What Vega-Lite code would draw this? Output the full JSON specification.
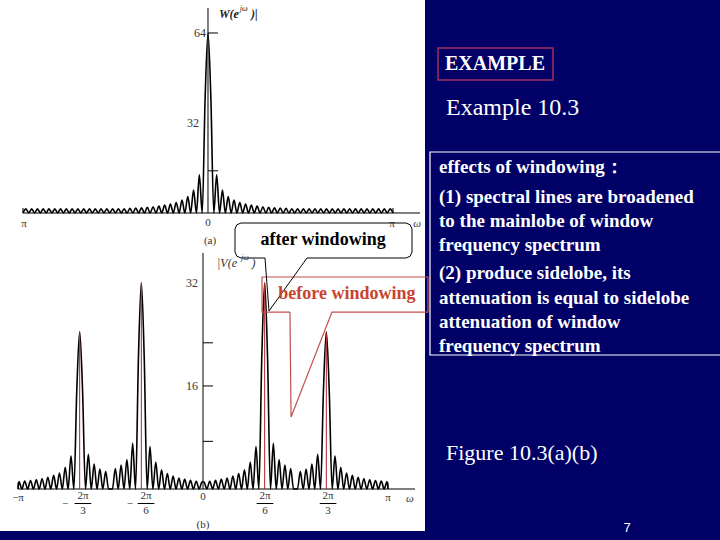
{
  "$schema": "https://vega.github.io/schema/vega-lite/v6.json",
  "background": "#000066",
  "padding": 0,
  "spacing": 0,
  "bounds": "flush",
  "config": {"view": {"stroke": null}},
  "hconcat": [
    {
      "width": 425,
      "height": 531,
      "view": {"fill": "white", "stroke": null},
      "resolve": {"scale": {"x": "independent", "y": "independent"}},
      "layer": [
        {
          "encoding": {
            "x": {"field": "x", "type": "quantitative", "scale": {"domain": [-1.1243, 1.173], "nice": false, "zero": false}, "axis": null},
            "y": {"field": "y", "type": "quantitative", "scale": {"domain": [-113.07, 75.73], "nice": false, "zero": false}, "axis": null}
          },
          "layer": [
            {
              "data": {"values": [
                {"x": -1, "x2": 1.146, "y": 0, "y2": 0},
                {"x": 0, "x2": 0, "y": 0, "y2": 72.9},
                {"x": 0, "x2": 0.054, "y": 64, "y2": 64},
                {"x": 0, "x2": 0.054, "y": 15, "y2": 15},
                {"x": -1, "x2": -1, "y": 0, "y2": 1.8},
                {"x": 1, "x2": 1, "y": 0, "y2": 1.8}
              ]},
              "mark": {"type": "rule", "color": "black", "strokeWidth": 1},
              "encoding": {"x2": {"field": "x2"}, "y2": {"field": "y2"}}
            },
            {
              "data": {"values": [
                {"x": -1, "y": 0}, {"x": -0.984375, "y": 1.45}, {"x": -0.96875, "y": 0}, {"x": -0.953125, "y": 1.45},
                {"x": -0.9375, "y": 0}, {"x": -0.921875, "y": 1.45}, {"x": -0.90625, "y": 0}, {"x": -0.890625, "y": 1.45},
                {"x": -0.875, "y": 0}, {"x": -0.859375, "y": 1.45}, {"x": -0.84375, "y": 0}, {"x": -0.828125, "y": 1.45},
                {"x": -0.8125, "y": 0}, {"x": -0.796875, "y": 1.45}, {"x": -0.78125, "y": 0}, {"x": -0.765625, "y": 1.45},
                {"x": -0.75, "y": 0}, {"x": -0.734375, "y": 1.45}, {"x": -0.71875, "y": 0}, {"x": -0.703125, "y": 1.45},
                {"x": -0.6875, "y": 0}, {"x": -0.671875, "y": 1.45}, {"x": -0.65625, "y": 0}, {"x": -0.640625, "y": 1.45},
                {"x": -0.625, "y": 0}, {"x": -0.609375, "y": 1.45}, {"x": -0.59375, "y": 0}, {"x": -0.578125, "y": 1.45},
                {"x": -0.5625, "y": 0}, {"x": -0.546875, "y": 1.45}, {"x": -0.53125, "y": 0}, {"x": -0.515625, "y": 1.45},
                {"x": -0.5, "y": 0}, {"x": -0.484375, "y": 1.45}, {"x": -0.46875, "y": 0}, {"x": -0.453125, "y": 1.53},
                {"x": -0.4375, "y": 0}, {"x": -0.421875, "y": 1.63}, {"x": -0.40625, "y": 0}, {"x": -0.390625, "y": 1.74},
                {"x": -0.375, "y": 0}, {"x": -0.359375, "y": 1.87}, {"x": -0.34375, "y": 0}, {"x": -0.328125, "y": 2.03},
                {"x": -0.3125, "y": 0}, {"x": -0.296875, "y": 2.22}, {"x": -0.28125, "y": 0}, {"x": -0.265625, "y": 2.47},
                {"x": -0.25, "y": 0}, {"x": -0.234375, "y": 2.78}, {"x": -0.21875, "y": 0}, {"x": -0.203125, "y": 3.19},
                {"x": -0.1875, "y": 0}, {"x": -0.171875, "y": 3.75}, {"x": -0.15625, "y": 0}, {"x": -0.140625, "y": 4.56},
                {"x": -0.125, "y": 0}, {"x": -0.109375, "y": 5.85}, {"x": -0.09375, "y": 0}, {"x": -0.078125, "y": 8.17},
                {"x": -0.0625, "y": 0}, {"x": -0.046875, "y": 13.59}, {"x": -0.03125, "y": 0}, {"x": -0.015625, "y": 40.7},
                {"x": 0, "y": 64},
                {"x": 0.015625, "y": 40.7}, {"x": 0.03125, "y": 0}, {"x": 0.046875, "y": 13.59}, {"x": 0.0625, "y": 0},
                {"x": 0.078125, "y": 8.17}, {"x": 0.09375, "y": 0}, {"x": 0.109375, "y": 5.85}, {"x": 0.125, "y": 0},
                {"x": 0.140625, "y": 4.56}, {"x": 0.15625, "y": 0}, {"x": 0.171875, "y": 3.75}, {"x": 0.1875, "y": 0},
                {"x": 0.203125, "y": 3.19}, {"x": 0.21875, "y": 0}, {"x": 0.234375, "y": 2.78}, {"x": 0.25, "y": 0},
                {"x": 0.265625, "y": 2.47}, {"x": 0.28125, "y": 0}, {"x": 0.296875, "y": 2.22}, {"x": 0.3125, "y": 0},
                {"x": 0.328125, "y": 2.03}, {"x": 0.34375, "y": 0}, {"x": 0.359375, "y": 1.87}, {"x": 0.375, "y": 0},
                {"x": 0.390625, "y": 1.74}, {"x": 0.40625, "y": 0}, {"x": 0.421875, "y": 1.63}, {"x": 0.4375, "y": 0},
                {"x": 0.453125, "y": 1.53}, {"x": 0.46875, "y": 0}, {"x": 0.484375, "y": 1.45}, {"x": 0.5, "y": 0},
                {"x": 0.515625, "y": 1.45}, {"x": 0.53125, "y": 0}, {"x": 0.546875, "y": 1.45}, {"x": 0.5625, "y": 0},
                {"x": 0.578125, "y": 1.45}, {"x": 0.59375, "y": 0}, {"x": 0.609375, "y": 1.45}, {"x": 0.625, "y": 0},
                {"x": 0.640625, "y": 1.45}, {"x": 0.65625, "y": 0}, {"x": 0.671875, "y": 1.45}, {"x": 0.6875, "y": 0},
                {"x": 0.703125, "y": 1.45}, {"x": 0.71875, "y": 0}, {"x": 0.734375, "y": 1.45}, {"x": 0.75, "y": 0},
                {"x": 0.765625, "y": 1.45}, {"x": 0.78125, "y": 0}, {"x": 0.796875, "y": 1.45}, {"x": 0.8125, "y": 0},
                {"x": 0.828125, "y": 1.45}, {"x": 0.84375, "y": 0}, {"x": 0.859375, "y": 1.45}, {"x": 0.875, "y": 0},
                {"x": 0.890625, "y": 1.45}, {"x": 0.90625, "y": 0}, {"x": 0.921875, "y": 1.45}, {"x": 0.9375, "y": 0},
                {"x": 0.953125, "y": 1.45}, {"x": 0.96875, "y": 0}, {"x": 0.984375, "y": 1.45}, {"x": 1, "y": 0}
              ]},
              "mark": {"type": "line", "color": "black", "strokeWidth": 1.6, "interpolate": "monotone"}
            },
            {
              "data": {"values": [
                {"x": -0.995, "y": -3.8, "t": "π"},
                {"x": 0, "y": -3.6, "t": "0"},
                {"x": 0.995, "y": -3.8, "t": "π"},
                {"x": 0.011, "y": -10.0, "t": "(a)"}
              ]},
              "mark": {"type": "text", "font": "Liberation Serif", "fontSize": 11, "color": "#333333", "align": "center", "baseline": "middle"},
              "encoding": {"text": {"field": "t"}}
            },
            {
              "data": {"values": [
                {"x": -0.011, "y": 64, "t": "64"},
                {"x": -0.049, "y": 32, "t": "32"}
              ]},
              "mark": {"type": "text", "font": "Liberation Serif", "fontSize": 12, "color": "#333333", "align": "right", "baseline": "middle"},
              "encoding": {"text": {"field": "t"}}
            },
            {
              "data": {"values": [{"x": 1.13, "y": -3.8, "t": "ω"}]},
              "mark": {"type": "text", "font": "Liberation Serif", "fontStyle": "italic", "fontSize": 11, "color": "#333333", "align": "center", "baseline": "middle"},
              "encoding": {"text": {"field": "t"}}
            },
            {
              "data": {"values": [
                {"x": 0.059, "y": 70.8, "t": "W(e"},
                {"x": 0.232, "y": 70.8, "t": ")|"}
              ]},
              "mark": {"type": "text", "font": "Liberation Serif", "fontStyle": "italic", "fontWeight": "bold", "fontSize": 12, "color": "#222222", "align": "left", "baseline": "middle"},
              "encoding": {"text": {"field": "t"}}
            },
            {
              "data": {"values": [{"x": 0.172, "y": 72.6, "t": "jω"}]},
              "mark": {"type": "text", "font": "Liberation Serif", "fontStyle": "italic", "fontSize": 8, "color": "#222222", "align": "left", "baseline": "middle"},
              "encoding": {"text": {"field": "t"}}
            }
          ]
        },
        {
          "encoding": {
            "x": {"field": "x", "type": "quantitative", "scale": {"domain": [-1.0973, 1.2], "nice": false, "zero": false}, "axis": null},
            "y": {"field": "y", "type": "quantitative", "scale": {"domain": [-6.52, 75.93], "nice": false, "zero": false}, "axis": null}
          },
          "layer": [
            {
              "data": {"values": [
                {"x": -1, "x2": 1.146, "y": 0, "y2": 0},
                {"x": 0, "x2": 0, "y": 0, "y2": 36.65},
                {"x": 0, "x2": 0.054, "y": 7.4, "y2": 7.4},
                {"x": 0, "x2": 0.054, "y": 16, "y2": 16},
                {"x": 0, "x2": 0.054, "y": 22.7, "y2": 22.7},
                {"x": -1, "x2": -1, "y": 0, "y2": 1.0},
                {"x": 1, "x2": 1, "y": 0, "y2": 1.0},
                {"x": -0.694, "x2": -0.604, "y": -2.25, "y2": -2.25},
                {"x": -0.353, "x2": -0.263, "y": -2.25, "y2": -2.25},
                {"x": 0.29, "x2": 0.38, "y": -2.25, "y2": -2.25},
                {"x": 0.631, "x2": 0.721, "y": -2.25, "y2": -2.25}
              ]},
              "mark": {"type": "rule", "color": "black", "strokeWidth": 1},
              "encoding": {"x2": {"field": "x2"}, "y2": {"field": "y2"}}
            },
            {
              "data": {"values": [
                {"x": -1, "y": 0},
                {"x": -0.99479, "y": 1.16}, {"x": -0.97917, "y": 0}, {"x": -0.96354, "y": 1.23}, {"x": -0.94792, "y": 0},
                {"x": -0.93229, "y": 1.33}, {"x": -0.91667, "y": 0}, {"x": -0.90104, "y": 1.44}, {"x": -0.88542, "y": 0},
                {"x": -0.86979, "y": 1.6}, {"x": -0.85417, "y": 0}, {"x": -0.83854, "y": 1.81}, {"x": -0.82292, "y": 0},
                {"x": -0.80729, "y": 2.11}, {"x": -0.79167, "y": 0}, {"x": -0.77604, "y": 2.49}, {"x": -0.76042, "y": 0},
                {"x": -0.74479, "y": 3.36}, {"x": -0.72917, "y": 0}, {"x": -0.71354, "y": 5.1}, {"x": -0.69792, "y": 0},
                {"x": -0.68229, "y": 15.3}, {"x": -0.66667, "y": 24.4}, {"x": -0.65104, "y": 15.3}, {"x": -0.63542, "y": 0},
                {"x": -0.61979, "y": 5.4}, {"x": -0.60417, "y": 0}, {"x": -0.58854, "y": 3.86}, {"x": -0.57292, "y": 0},
                {"x": -0.55729, "y": 3.09}, {"x": -0.54167, "y": 0}, {"x": -0.52604, "y": 2.71}, {"x": -0.51042, "y": 0},
                {"x": -0.48958, "y": 0}, {"x": -0.47396, "y": 3.18}, {"x": -0.45833, "y": 0}, {"x": -0.44271, "y": 3.72},
                {"x": -0.42708, "y": 0}, {"x": -0.41146, "y": 4.59}, {"x": -0.39583, "y": 0}, {"x": -0.38021, "y": 7.1},
                {"x": -0.36458, "y": 0}, {"x": -0.34896, "y": 20.4}, {"x": -0.33333, "y": 32}, {"x": -0.31771, "y": 20.4},
                {"x": -0.30208, "y": 0}, {"x": -0.28646, "y": 6.6}, {"x": -0.27083, "y": 0}, {"x": -0.25521, "y": 4.2},
                {"x": -0.23958, "y": 0}, {"x": -0.22396, "y": 3.0}, {"x": -0.20833, "y": 0}, {"x": -0.19271, "y": 2.4},
                {"x": -0.17708, "y": 0}, {"x": -0.16146, "y": 2.0}, {"x": -0.14583, "y": 0}, {"x": -0.13021, "y": 1.7},
                {"x": -0.11458, "y": 0}, {"x": -0.09896, "y": 1.5}, {"x": -0.08333, "y": 0}, {"x": -0.06771, "y": 1.35},
                {"x": -0.05208, "y": 0}, {"x": -0.03646, "y": 1.2}, {"x": -0.02083, "y": 0}, {"x": -0.00521, "y": 1.1},
                {"x": 0.00521, "y": 1.1}, {"x": 0.02083, "y": 0}, {"x": 0.03646, "y": 1.2}, {"x": 0.05208, "y": 0},
                {"x": 0.06771, "y": 1.35}, {"x": 0.08333, "y": 0}, {"x": 0.09896, "y": 1.5}, {"x": 0.11458, "y": 0},
                {"x": 0.13021, "y": 1.7}, {"x": 0.14583, "y": 0}, {"x": 0.16146, "y": 2.0}, {"x": 0.17708, "y": 0},
                {"x": 0.19271, "y": 2.4}, {"x": 0.20833, "y": 0}, {"x": 0.22396, "y": 3.0}, {"x": 0.23958, "y": 0},
                {"x": 0.25521, "y": 4.2}, {"x": 0.27083, "y": 0}, {"x": 0.28646, "y": 6.6}, {"x": 0.30208, "y": 0},
                {"x": 0.31771, "y": 20.4}, {"x": 0.33333, "y": 32}, {"x": 0.34896, "y": 20.4}, {"x": 0.36458, "y": 0},
                {"x": 0.38021, "y": 7.1}, {"x": 0.39583, "y": 0}, {"x": 0.41146, "y": 4.59}, {"x": 0.42708, "y": 0},
                {"x": 0.44271, "y": 3.72}, {"x": 0.45833, "y": 0}, {"x": 0.47396, "y": 3.18}, {"x": 0.48958, "y": 0},
                {"x": 0.51042, "y": 0}, {"x": 0.52604, "y": 2.71}, {"x": 0.54167, "y": 0}, {"x": 0.55729, "y": 3.09},
                {"x": 0.57292, "y": 0}, {"x": 0.58854, "y": 3.86}, {"x": 0.60417, "y": 0}, {"x": 0.61979, "y": 5.4},
                {"x": 0.63542, "y": 0}, {"x": 0.65104, "y": 15.3}, {"x": 0.66667, "y": 24.4}, {"x": 0.68229, "y": 15.3},
                {"x": 0.69792, "y": 0}, {"x": 0.71354, "y": 5.1}, {"x": 0.72917, "y": 0}, {"x": 0.74479, "y": 3.36},
                {"x": 0.76042, "y": 0}, {"x": 0.77604, "y": 2.49}, {"x": 0.79167, "y": 0}, {"x": 0.80729, "y": 2.11},
                {"x": 0.82292, "y": 0}, {"x": 0.83854, "y": 1.81}, {"x": 0.85417, "y": 0}, {"x": 0.86979, "y": 1.6},
                {"x": 0.88542, "y": 0}, {"x": 0.90104, "y": 1.44}, {"x": 0.91667, "y": 0}, {"x": 0.93229, "y": 1.33},
                {"x": 0.94792, "y": 0}, {"x": 0.96354, "y": 1.23}, {"x": 0.97917, "y": 0}, {"x": 0.99479, "y": 1.16},
                {"x": 1, "y": 0}
              ]},
              "mark": {"type": "line", "color": "black", "strokeWidth": 1.6, "interpolate": "monotone"}
            },
            {
              "data": {"values": [
                {"x": -0.66667, "x2": -0.66667, "y": 0, "y2": 24.4},
                {"x": -0.33333, "x2": -0.33333, "y": 0, "y2": 32},
                {"x": 0.33333, "x2": 0.33333, "y": 0, "y2": 32},
                {"x": 0.66667, "x2": 0.66667, "y": 0, "y2": 24.4}
              ]},
              "mark": {"type": "rule", "color": "#B22222", "strokeWidth": 1},
              "encoding": {"x2": {"field": "x2"}, "y2": {"field": "y2"}}
            },
            {
              "data": {"values": [
                {"x": 0.470, "y": 27.48, "i": 0},
                {"x": 0.319, "y": 27.48, "i": 1},
                {"x": 0.319, "y": 32.92, "i": 2},
                {"x": 1.216, "y": 32.92, "i": 3},
                {"x": 1.216, "y": 27.48, "i": 4},
                {"x": 0.697, "y": 27.48, "i": 5},
                {"x": 0.476, "y": 11.18, "i": 6},
                {"x": 0.470, "y": 27.48, "i": 7}
              ]},
              "mark": {"type": "line", "color": "#C0504D", "strokeWidth": 1.2, "interpolate": "linear"},
              "encoding": {"order": {"field": "i", "type": "quantitative"}}
            },
            {
              "data": {"values": [
                {"x": 0.3351, "y": 35.87, "i": 0},
                {"x": 0.2054, "y": 35.87, "i": 1},
                {"x": 0.1827, "y": 36.149, "i": 2},
                {"x": 0.1730, "y": 36.801, "i": 3},
                {"x": 0.1730, "y": 40.373, "i": 4},
                {"x": 0.1827, "y": 41.025, "i": 5},
                {"x": 0.2054, "y": 41.304, "i": 6},
                {"x": 1.0973, "y": 41.304, "i": 7},
                {"x": 1.1200, "y": 41.025, "i": 8},
                {"x": 1.1297, "y": 40.373, "i": 9},
                {"x": 1.1297, "y": 36.801, "i": 10},
                {"x": 1.1200, "y": 36.149, "i": 11},
                {"x": 1.0973, "y": 35.87, "i": 12},
                {"x": 0.5622, "y": 35.87, "i": 13},
                {"x": 0.3568, "y": 27.64, "i": 14},
                {"x": 0.3351, "y": 35.87, "i": 15}
              ]},
              "mark": {"type": "line", "color": "black", "strokeWidth": 1, "interpolate": "linear"},
              "encoding": {"order": {"field": "i", "type": "quantitative"}}
            },
            {
              "data": {"values": [
                {"x": -1.0, "y": -1.4, "t": "−π"},
                {"x": 0, "y": -1.3, "t": "0"},
                {"x": 1.0, "y": -1.4, "t": "π"},
                {"x": -0.649, "y": -1.09, "t": "2π"},
                {"x": -0.308, "y": -1.09, "t": "2π"},
                {"x": 0.335, "y": -1.09, "t": "2π"},
                {"x": 0.676, "y": -1.09, "t": "2π"},
                {"x": -0.649, "y": -3.45, "t": "3"},
                {"x": -0.308, "y": -3.45, "t": "6"},
                {"x": 0.335, "y": -3.45, "t": "6"},
                {"x": 0.676, "y": -3.45, "t": "3"},
                {"x": -0.746, "y": -2.25, "t": "−"},
                {"x": -0.395, "y": -2.25, "t": "−"},
                {"x": 0, "y": -5.6, "t": "(b)"}
              ]},
              "mark": {"type": "text", "font": "Liberation Serif", "fontSize": 11, "color": "#333333", "align": "center", "baseline": "middle"},
              "encoding": {"text": {"field": "t"}}
            },
            {
              "data": {"values": [
                {"x": -0.027, "y": 32, "t": "32"},
                {"x": -0.027, "y": 16, "t": "16"}
              ]},
              "mark": {"type": "text", "font": "Liberation Serif", "fontSize": 12, "color": "#333333", "align": "right", "baseline": "middle"},
              "encoding": {"text": {"field": "t"}}
            },
            {
              "data": {"values": [{"x": 1.119, "y": -1.6, "t": "ω"}]},
              "mark": {"type": "text", "font": "Liberation Serif", "fontStyle": "italic", "fontSize": 11, "color": "#333333", "align": "center", "baseline": "middle"},
              "encoding": {"text": {"field": "t"}}
            },
            {
              "data": {"values": [
                {"x": 0.076, "y": 35.09, "t": "|V(e"},
                {"x": 0.262, "y": 35.09, "t": ")"}
              ]},
              "mark": {"type": "text", "font": "Liberation Serif", "fontStyle": "italic", "fontSize": 12, "color": "#333333", "align": "left", "baseline": "middle"},
              "encoding": {"text": {"field": "t"}}
            },
            {
              "data": {"values": [{"x": 0.205, "y": 35.9, "t": "jω"}]},
              "mark": {"type": "text", "font": "Liberation Serif", "fontStyle": "italic", "fontSize": 8, "color": "#333333", "align": "left", "baseline": "middle"},
              "encoding": {"text": {"field": "t"}}
            },
            {
              "data": {"values": [{"x": 0.649, "y": 38.66, "t": "after windowing"}]},
              "mark": {"type": "text", "font": "Liberation Serif", "fontWeight": "bold", "fontSize": 18, "color": "black", "align": "center", "baseline": "middle"},
              "encoding": {"text": {"field": "t"}}
            },
            {
              "data": {"values": [{"x": 0.778, "y": 30.28, "t": "before windowing"}]},
              "mark": {"type": "text", "font": "Liberation Serif", "fontWeight": "bold", "fontSize": 18, "color": "#C8442E", "align": "center", "baseline": "middle"},
              "encoding": {"text": {"field": "t"}}
            }
          ]
        }
      ]
    },
    {
      "width": 295,
      "height": 540,
      "view": {"stroke": null},
      "encoding": {
        "x": {"field": "x", "type": "quantitative", "scale": {"domain": [0, 295], "nice": false, "zero": false}, "axis": null},
        "y": {"field": "y", "type": "quantitative", "scale": {"domain": [0, 540], "reverse": true, "nice": false, "zero": false}, "axis": null}
      },
      "layer": [
        {
          "data": {"values": [{"x": 13, "x2": 128, "y": 48, "y2": 80}]},
          "mark": {"type": "rect", "fill": "transparent", "stroke": "#A0305A", "strokeWidth": 1.5},
          "encoding": {"x2": {"field": "x2"}, "y2": {"field": "y2"}}
        },
        {
          "data": {"values": [{"x": 5, "x2": 296, "y": 152, "y2": 355}]},
          "mark": {"type": "rect", "fill": "transparent", "stroke": "white", "strokeWidth": 1.2},
          "encoding": {"x2": {"field": "x2"}, "y2": {"field": "y2"}}
        },
        {
          "data": {"values": [{"x": 20, "y": 64, "t": "EXAMPLE"}]},
          "mark": {"type": "text", "font": "Liberation Serif", "fontWeight": "bold", "fontSize": 20, "color": "white", "align": "left", "baseline": "middle"},
          "encoding": {"text": {"field": "t"}}
        },
        {
          "data": {"values": [{"x": 21, "y": 108, "t": "Example 10.3"}]},
          "mark": {"type": "text", "font": "Liberation Serif", "fontSize": 24, "color": "white", "align": "left", "baseline": "middle"},
          "encoding": {"text": {"field": "t"}}
        },
        {
          "data": {"values": [{"x": 21, "y": 453, "t": "Figure 10.3(a)(b)"}]},
          "mark": {"type": "text", "font": "Liberation Serif", "fontSize": 22, "color": "white", "align": "left", "baseline": "middle"},
          "encoding": {"text": {"field": "t"}}
        },
        {
          "data": {"values": [
            {"x": 14, "y": 167, "t": "effects of windowing："},
            {"x": 14, "y": 197, "t": "(1) spectral lines are broadened"},
            {"x": 14, "y": 221, "t": "to the mainlobe of window"},
            {"x": 14, "y": 245, "t": "frequency spectrum"},
            {"x": 14, "y": 273, "t": "(2) produce sidelobe,  its"},
            {"x": 14, "y": 298, "t": "attenuation is equal to sidelobe"},
            {"x": 14, "y": 322, "t": "attenuation of window"},
            {"x": 14, "y": 346, "t": "frequency spectrum"}
          ]},
          "mark": {"type": "text", "font": "Liberation Serif", "fontWeight": "bold", "fontSize": 19, "color": "white", "align": "left", "baseline": "middle"},
          "encoding": {"text": {"field": "t"}}
        },
        {
          "data": {"values": [{"x": 202, "y": 528, "t": "7"}]},
          "mark": {"type": "text", "font": "Liberation Sans", "fontSize": 13, "color": "white", "align": "center", "baseline": "middle"},
          "encoding": {"text": {"field": "t"}}
        }
      ]
    }
  ]
}
